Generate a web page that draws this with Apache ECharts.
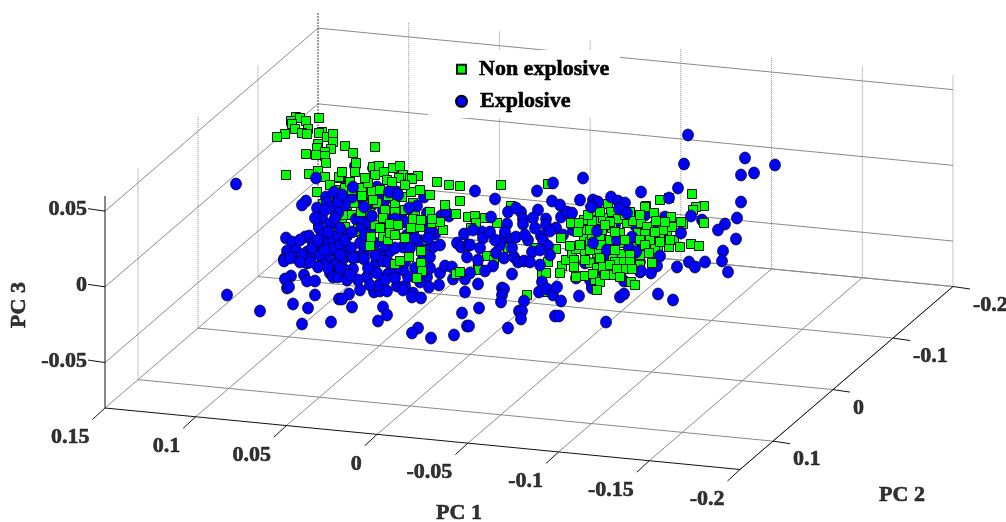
<!DOCTYPE html>
<html>
<head>
<meta charset="utf-8">
<style>html,body{margin:0;padding:0;background:#fff}#c{width:1006px;height:522px}</style>
<script src="https://cdn.jsdelivr.net/npm/echarts@6/dist/echarts.min.js"></script>
</head>
<body>
<div id="c"></div>
<script>
// Tick values on the three principal-component axes
const pc1Ticks = [0.15, 0.1, 0.05, 0, -0.05, -0.1, -0.15, -0.2];
const pc2Ticks = [-0.2, -0.1, 0, 0.1];
const pc3Ticks = [-0.05, 0, 0.05];
const pc1Labels = ['0.15', '0.1', '0.05', '0', '-0.05', '-0.1', '-0.15', '-0.2'];
const pc2Labels = ['-0.2', '-0.1', '0', '0.1'];
const pc3Labels = ['-0.05', '0', '0.05'];
const pc1Range = [0.15, -0.2];
const pc2Range = [-0.2, 0.155];
const pc3Range = [-0.08, 0.06];

// The points, in the projected view plane
const nonExplosiveBack = [
[317,192],[323,204],[337,202],[338,218],[337,226],[318,222],[320,250],[342,218],[345,227],[347,235],
[347,205],[354,203],[358,223],[345,188],[340,178],[345,215],[335,190],[352,215],[360,232],[362,240]
];
const explosiveBack = [
[355,166],[373,168],[377,187],[397,192],[383,210],[424,197],[427,213],[441,216],[449,216],[446,212],
[435,234],[356,219],[362,227],[372,229],[407,235],[403,247],[433,247],[440,245],[425,246],[351,248],
[347,234],[342,247],[665,217],[702,220],[546,219],[561,217],[567,212],[572,213],[556,228],[573,230],
[563,235],[587,262],[585,263],[593,200],[689,262],[677,267],[633,257],[640,262],[640,272],[576,278],
[592,287],[607,267],[600,273],[590,280],[592,288],[345,205],[352,197],[363,200],[379,196],[372,205],
[385,200],[402,212],[392,215],[405,222],[415,228],[425,222],[430,232],[380,227],[368,222],[360,218],
[615,225],[635,225],[645,215],[600,225],[650,250],[655,225],[610,258],[622,270],[585,245],[575,225]
];
const nonExplosiveFront = [
[296,117],[291,121],[300,118],[306,121],[292,124],[308,129],[295,129],[302,133],[307,134],[285,134],
[277,137],[319,118],[322,132],[319,133],[327,137],[333,134],[333,142],[318,144],[317,148],[331,149],
[325,152],[316,155],[306,154],[325,156],[326,163],[345,146],[375,147],[353,153],[356,163],[318,171],
[309,174],[286,175],[325,177],[339,177],[373,167],[379,166],[375,175],[384,172],[393,168],[400,166],
[403,175],[399,178],[410,178],[418,176],[387,180],[350,182],[392,182],[412,179],[437,182],[449,185],
[460,186],[460,201],[468,217],[456,214],[362,188],[362,196],[372,191],[377,203],[395,204],
[411,192],[402,197],[413,203],[370,213],[361,212],
[420,227],[432,223],[443,230],
[501,185],[548,184],[511,206],[475,216],[485,218],[497,223],[476,223],[471,228],[561,238],
[508,248],[536,248],[556,249],[487,256],[494,260],[548,262],[562,266],[566,260],[572,253],[576,249],
[585,251],[597,253],[570,246],[584,238],[590,242],[598,238],[586,230],[591,222],[584,220],[595,212],
[598,220],[571,223],[579,223],[592,235],[578,232],[574,260],[590,263],[574,267],[478,268],[479,270],
[527,295],[547,292],[542,274],[546,273],[560,273],[584,276],[576,277],[593,274],[595,280],
[597,268],[608,204],[611,212],[592,221],[603,218],[618,219],[627,223],[633,221],[641,223],[649,227],
[646,206],[654,213],[656,221],[660,200],[669,198],[692,194],[671,217],[665,233],[667,232],[674,240],
[669,247],[680,247],[691,244],[699,246],[683,224],[681,222],[704,223],[704,206],[696,207],[693,210],
[612,228],[600,237],[601,245],[638,233],[646,235],[660,233],[670,240],[622,254],
[624,262],[603,267],[613,257],[593,274],
[608,250],[623,243],[610,240],[602,230],[620,233],[653,238],[658,250],[633,247],[645,207],
[672,227],[647,227],[663,230],[645,234],[652,240],[655,249],[629,282],
[352,190],[368,183],[380,190],[388,196],[405,185],[420,190],[430,195],[405,210],[415,212],[385,210],
[375,225],[366,205],[395,212],[430,212],[440,222],[405,238],[380,228],[330,185],[342,172],[355,172],
[365,178],[425,240],[445,205],[640,255],
[660,242],[640,215],[630,212],[620,208],[600,258],
[640,265],[625,215],[650,240],[590,250],[585,260],[580,245],[600,212],[610,222],[588,215],
[665,222],[600,282],[612,275],[590,230]
];
const explosiveFront = [
[236,184],[316,178],[306,201],[302,205],[317,208],[326,197],[334,192],[327,203],[331,208],[338,202],
[322,218],[330,224],[319,228],[305,237],[309,236],[286,238],[292,242],[322,235],[327,243],[319,245],
[313,243],[336,251],[287,251],[296,250],[307,252],[313,255],[327,257],[284,259],[296,258],[333,240],
[338,213],[338,235],[227,295],[260,311],[284,261],[307,263],[322,263],[318,267],[338,260],[291,276],
[285,279],[304,275],[307,281],[315,281],[330,273],[333,277],[287,288],[289,287],[315,295],[293,304],
[308,308],[302,324],[331,322],[339,299],[338,277],[342,195],[353,187],[389,192],[398,195],[364,207],
[372,216],[395,219],[417,206],[409,208],[464,234],[457,243],[461,247],[468,245],[418,241],[360,243],
[357,257],[364,252],[380,254],[383,258],[390,251],[345,257],[423,258],[430,257],[364,259],[353,258],
[342,260],[353,269],[376,263],[383,261],[388,274],[377,273],[367,277],[374,292],[380,291],[387,291],
[379,285],[397,286],[405,286],[403,290],[413,293],[412,297],[421,298],[408,277],[427,277],[429,287],
[440,273],[439,285],[445,266],[452,267],[453,279],[465,279],[467,257],[465,292],[349,294],[342,299],
[352,307],[383,307],[387,315],[378,321],[418,328],[412,333],[431,338],[454,335],[462,313],[467,326],
[403,270],[430,268],[583,178],[553,183],[537,191],[552,201],[580,200],[597,202],[475,191],[495,199],
[538,210],[508,212],[521,212],[516,208],[533,218],[523,219],[507,224],[523,224],[491,217],[546,225],
[550,231],[541,236],[543,240],[503,239],[512,239],[516,237],[482,232],[483,238],[473,230],[548,246],
[496,253],[532,252],[514,257],[504,258],[518,262],[524,261],[478,260],[493,266],[540,265],[485,271],
[470,273],[512,274],[478,284],[502,288],[504,289],[502,295],[501,302],[524,301],[479,308],[519,311],
[522,311],[521,319],[508,328],[469,326],[542,282],[539,292],[547,289],[553,295],[557,287],[561,301],
[579,296],[555,316],[559,316],[606,322],[620,297],[624,294],[641,192],[611,197],[598,202],[618,201],
[625,203],[591,207],[619,209],[627,213],[691,216],[681,233],[718,230],[597,231],[632,237],[617,240],
[593,243],[643,245],[629,248],[636,252],[607,250],[660,256],[695,267],[705,262],[641,271],[651,273],
[657,266],[624,281],[658,294],[673,300],[688,135],[684,164],[745,158],[775,165],[754,173],[741,175],
[678,188],[669,198],[741,202],[737,218],[725,224],[736,239],[723,251],[722,261],[728,272],
[300,240],[312,248],[302,255],[320,255],[333,249],[290,258],[300,262],[325,250],[340,245],[340,255],
[318,240],[310,262],[335,265],[345,270],[328,268],[340,268],[347,280],[358,280],[370,285],[360,290],
[350,275],[368,268],[375,255],[388,262],[395,270],[405,262],[415,268],[420,282],[395,278],[385,280],
[365,245],[375,243],[385,245],[395,248],[410,248],[415,238],[428,238],[345,240],[352,232],[365,235],
[335,218],[340,228],[328,232],[315,218],[325,210],
[490,232],[500,245],[512,248],[528,240],[535,228],[525,235],[495,240],[470,245],[480,248],[505,232],
[560,205],[540,250],[530,262],[550,255]
];
const nonExplosiveTop = [
[373,200],[383,218],[390,224],[398,225],[413,219],[421,220],[432,219],[411,228],[383,237],[388,240],
[371,237],[390,233],[395,235],[370,246],[421,251],[409,257],[395,264],[400,261],[421,263],[422,271],
[417,278],[456,274],[460,272],[605,225],[615,232],[625,240],[640,240],[615,250],[630,255],[645,245],
[615,262],[630,262],[610,265],[605,275],[626,269],[632,269],[617,269],[631,282],[635,285],[620,277],
[597,290],[652,263],[649,253],[655,232]
];

// Affine projection of the MATLAB-style 3D box onto the view plane
const origin = [105, 408];
function project(pc1, pc2, pc3) {
  const a = (pc1 - pc1Range[0]) / (pc1Range[1] - pc1Range[0]);
  const b = (pc2Range[1] - pc2) / (pc2Range[1] - pc2Range[0]);
  const c = (pc3 - pc3Range[0]) / (pc3Range[1] - pc3Range[0]);
  return [origin[0] + 635 * a + 213 * b, origin[1] + 61.5 * a - 183 * b - 212 * c];
}
const [x0, x1] = pc1Range, [y0, y1] = pc2Range, [z0, z1] = pc3Range;
const seg = (list, p, q) => { list.push(p, q, [null, null]); };
const shift = (p, d) => [p[0] + d[0], p[1] + d[1]];
const tickPc1 = [-12.5, 11.5], tickPc2 = [17, 2.5], tickPc3 = [-17, -2.5];

const gridSolid = [], gridDotted = [], gridDark = [], axisDark = [];
pc1Ticks.forEach(v => {
  if (v !== x0) seg(gridSolid, project(v, y0, z0), project(v, y1, z0));
  seg(v === x0 ? gridDark : gridDotted, project(v, y0, z0), project(v, y0, z1));
  seg(axisDark, project(v, y1, z0), shift(project(v, y1, z0), tickPc1));
});
pc2Ticks.forEach(v => {
  seg(gridSolid, project(x0, v, z0), project(x1, v, z0));
  if (v !== y0) seg(gridDotted, project(x0, v, z0), project(x0, v, z1));
  seg(axisDark, project(x1, v, z0), shift(project(x1, v, z0), tickPc2));
});
pc3Ticks.forEach(v => {
  seg(gridSolid, project(x0, y1, v), project(x0, y0, v));
  seg(gridSolid, project(x0, y0, v), project(x1, y0, v));
  seg(axisDark, project(x0, y1, v), shift(project(x0, y1, v), tickPc3));
});
seg(gridSolid, project(x0, y0, z0), project(x1, y0, z0));
seg(gridSolid, project(x0, y0, z0), project(x0, y1, z0));
seg(axisDark, project(x0, y1, z0), project(x1, y1, z0));
seg(axisDark, project(x1, y1, z0), project(x1, y0, z0));
seg(axisDark, project(x0, y1, z0), project(x0, y1, z1));

const lineSeries = (data, color, type, width, z) => ({
  type: 'line', data, symbol: 'none', connectNulls: false, silent: true, animation: false, z,
  lineStyle: { color, type, width }
});
const font = { fontFamily: '"Liberation Serif"', fontWeight: 'bold', fontSize: 22, color: '#000', textBorderColor: '#000', textBorderWidth: 0.6 };
const labelSeries = (items, position, rotate) => ({
  type: 'scatter', symbolSize: 0, silent: true, animation: false, z: 10,
  data: items.map(i => ({ value: i.p, name: i.t })),
  label: { show: true, position, distance: 3, rotate: rotate || 0, formatter: '{b}', ...font }
});
const square = { symbol: 'rect', symbolSize: 9, itemStyle: { color: '#00ff00', borderColor: '#111', borderWidth: 1, opacity: 1 } };
const circle = { symbol: 'circle', symbolSize: [11, 12], itemStyle: { color: '#0000ff', borderColor: '#000', borderWidth: 0.7, opacity: 1 } };
const pointSeries = (name, data, style, z) => ({ type: 'scatter', name, data, animation: false, silent: true, z, ...style });

const legendPanel = [[428, 50, 620, 118]];

const option = {
  animation: false,
  grid: { left: 0, right: 0, top: 0, bottom: 0 },
  xAxis: { type: 'value', min: 0, max: 1006, show: false },
  yAxis: { type: 'value', min: 0, max: 522, inverse: true, show: false },
  legend: [
    { data: [{ name: 'Non explosive', icon: 'rect' }], selectedMode: false, left: 451, top: 53, itemWidth: 9, itemHeight: 9, z: 10,
      textStyle: { ...font, padding: [0, 0, 0, 8] } },
    { data: [{ name: 'Explosive', icon: 'circle' }], selectedMode: false, left: 450, top: 85, itemWidth: 11, itemHeight: 11, z: 10,
      textStyle: { ...font, padding: [0, 0, 0, 8] } }
  ],
  series: [
    lineSeries(gridSolid, '#8a8a8a', 'solid', 1, 2),
    lineSeries(gridDotted, '#888', [1, 1], 1, 2),
    lineSeries(gridDark, '#444', [2, 1], 1, 2),
    {
      type: 'custom', silent: true, animation: false, z: 3, data: legendPanel,
      renderItem: (params, api) => {
        const a = api.coord([api.value(0), api.value(1)]);
        const b = api.coord([api.value(2), api.value(3)]);
        return { type: 'rect', shape: { x: a[0], y: a[1], width: b[0] - a[0], height: b[1] - a[1] }, style: { fill: '#fff' } };
      }
    },
    lineSeries(axisDark, '#111', 'solid', 1, 4),
    pointSeries('Non explosive', nonExplosiveBack, square, 5),
    pointSeries('Explosive', explosiveBack, circle, 6),
    pointSeries('Non explosive', nonExplosiveFront, square, 7),
    pointSeries('Explosive', explosiveFront, circle, 8),
    pointSeries('Non explosive', nonExplosiveTop, square, 9),
    labelSeries(pc1Ticks.map((v, i) => ({ p: shift(project(v, y1, z0), [tickPc1[0], tickPc1[1] + 18]), t: pc1Labels[i] })), 'left'),
    labelSeries(pc2Ticks.map((v, i) => ({ p: shift(project(x1, v, z0), [tickPc2[0], tickPc2[1] + 16]), t: pc2Labels[i] })), 'right'),
    labelSeries(pc3Ticks.map((v, i) => ({ p: shift(project(x0, y1, v), [tickPc3[0] + 2, tickPc3[1] + 1]), t: pc3Labels[i] })), 'left'),
    labelSeries([{ p: [459, 513], t: 'PC 1' }], 'inside'),
    labelSeries([{ p: [902, 495], t: 'PC 2' }], 'inside'),
    labelSeries([{ p: [19, 305], t: 'PC 3' }], 'inside', 90)
  ]
};
const chart = echarts.init(document.getElementById('c'), null, { renderer: 'canvas' });
chart.setOption(option);
</script>
</body>
</html>
